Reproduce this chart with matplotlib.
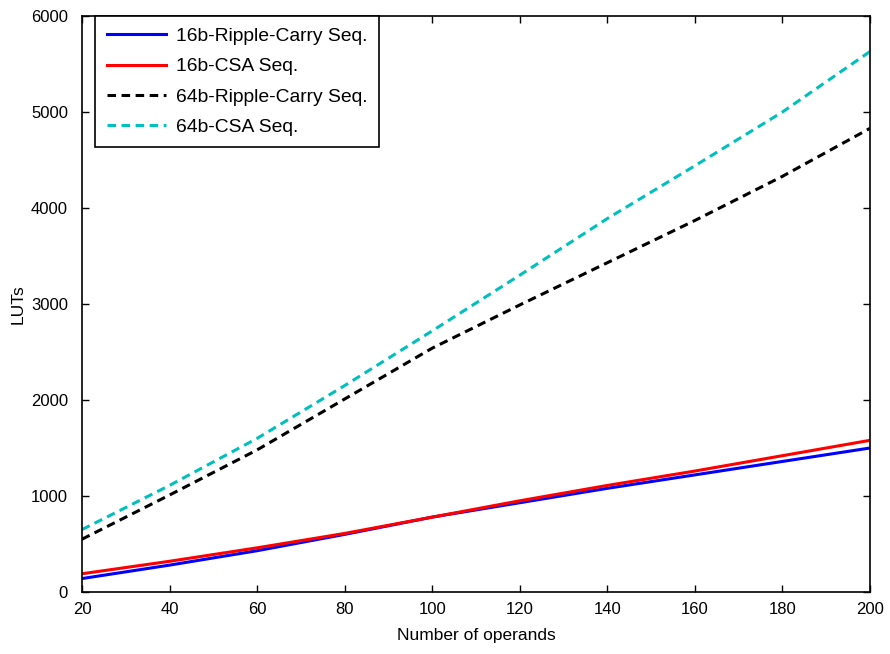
import numpy as np
import matplotlib.pyplot as plt

plt.rcParams['font.family'] = ['Liberation Sans', 'DejaVu Sans']

# number of operands
operands = [20, 40, 60, 80, 100, 120, 140, 160, 180, 200]

# LUT usage
rc16 = [140, 280, 430, 600, 780, 930, 1080, 1220, 1360, 1500]
csa16 = [190, 320, 460, 610, 780, 950, 1110, 1260, 1420, 1580]
rc64 = [550, 1010, 1480, 2010, 2540, 2990, 3430, 3870, 4330, 4830]
csa64 = [650, 1110, 1600, 2150, 2720, 3300, 3890, 4440, 5000, 5630]

labels = ['16b-Ripple-Carry Seq.', '16b-CSA Seq.',
          '64b-Ripple-Carry Seq.', '64b-CSA Seq.']

fig = plt.figure(figsize=(8.9, 6.54), dpi=100)
ax = fig.add_axes([0.0921, 0.0948, 0.8854, 0.8807])

ax.plot(operands, rc16, color='#0000ff', lw=2.2, label=labels[0])
ax.plot(operands, csa16, color='#ff0000', lw=2.2, label=labels[1])
ax.plot(operands, rc64, color='k', lw=2.2, ls=(0, (2.8, 1.8)), label=labels[2])
ax.plot(operands, csa64, color='#00bfbf', lw=2.2, ls=(0, (2.8, 1.8)), label=labels[3])

ax.set_xlim(20, 200)
ax.set_ylim(0, 6000)
ax.set_xticks(np.arange(20, 201, 20))
ax.set_yticks(np.arange(0, 6001, 1000))
ax.tick_params(direction='in', top=True, right=True, labelsize=12,
               length=5, width=1)
ax.tick_params(axis='x', pad=7)
ax.tick_params(axis='y', pad=10)
for s in ax.spines.values():
    s.set_linewidth(1.2)

ax.set_xlabel('Number of operands', fontsize=12.5, labelpad=8)
ax.set_ylabel('LUTs', fontsize=12.5)
ax.yaxis.set_label_coords(-0.071, 0.5)

leg = ax.legend(loc='upper left', bbox_to_anchor=(95 / 890, 1 - 16 / 654),
                bbox_transform=fig.transFigure, borderaxespad=0, fontsize=13.9,
                fancybox=False, framealpha=1, edgecolor='k', handlelength=3.1,
                handletextpad=0.5, labelspacing=0.66, borderpad=0.6)
leg.get_frame().set_linewidth(1.2)

fig.savefig('out.png', dpi=100)
